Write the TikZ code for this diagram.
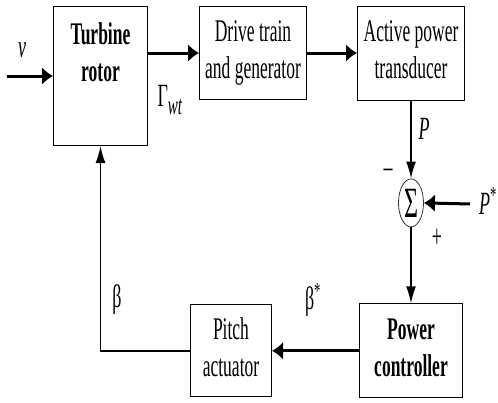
\documentclass[tikz,border=0pt]{standalone}
\usepackage{fontspec}
\setmainfont{Liberation Serif}
\usepackage{graphicx}
\usetikzlibrary{positioning, arrows.meta, shapes.geometric}
\newcommand{\tall}[1]{\scalebox{1}[1.8]{#1}}

\begin{document}
\begin{tikzpicture}[x=1pt, y=-1pt,
blk/.style={rectangle, draw=black, line width=1pt, inner sep=0pt, font=\fontsize{17.5}{20.5}\selectfont},
lbl/.style={inner sep=0pt, font=\fontsize{18}{20}\selectfont},
harrow/.style={-{Latex[length=11pt, width=18pt]}, line width=3pt},
varrow/.style={-{Latex[length=17pt, width=10pt]}, line width=1.5pt},
]
\useasboundingbox (0,0) rectangle (498,402);

\node[blk, minimum width=94pt, minimum height=139pt, anchor=north west,
      label={[anchor=north, yshift=-9pt, font=\fontsize{17.5}{20.5}\selectfont\bfseries]north:\tall{\begin{tabular}{@{}c@{}}Turbine\\rotor\end{tabular}}}]
      (turbine) at (53,6) {};
\node[blk, minimum width=107pt, minimum height=93pt]  (drive)  [right=51pt of turbine.north east, anchor=north west]
      {\tall{\begin{tabular}{@{}c@{}}Drive train\\and generator\end{tabular}}};
\node[blk, minimum width=107pt, minimum height=94pt]  (active) [right=50pt of drive]
      {\tall{\begin{tabular}{@{}c@{}}Active power\\transducer\end{tabular}}};
\node[ellipse, draw=black!80, line width=0.8pt, inner sep=0pt, minimum width=25pt, minimum height=48pt]
      (sum) [below=78pt of active] {\tall{\fontsize{24}{24}\selectfont Σ}};
\node[blk, minimum width=103pt, minimum height=94pt]  (power)  [below=76pt of sum]
      {\tall{\bfseries\begin{tabular}{@{}c@{}}Power\\controller\end{tabular}}};
\node[blk, minimum width=81pt, minimum height=92pt]   (pitch)  [left=87pt of power]
      {\tall{\begin{tabular}{@{}c@{}}Pitch\\actuator\end{tabular}}};

\coordinate (vin)  at (7,76);
\coordinate (pref) at (470,204);

% signal labels
\node[lbl] (vlab)    at (22,50)   {\tall{\textit{v}}};
\node[lbl] (gamlab)  at (170,100) {\tall{Γ\raisebox{-4pt}{\fontsize{15}{15}\selectfont\textit{wt}}}};
\node[lbl] (plab)    at (424,129) {\tall{\textit{P}}};
\node[lbl] (preflab) at (488,201) {\tall{\textit{P}\textsuperscript{*}}};
\node[lbl] (minus)   at (388,173) {\tall{–}};
\node[lbl] (plus)    at (437,238) {\tall{+}};
\node[lbl] (bstar)   at (313,300) {\tall{β\textsuperscript{*}}};
\node[lbl] (blab)    at (117,300) {\tall{β}};

\draw[harrow] (vin) -- (turbine.west |- vin);
\draw[harrow] (turbine.east |- drive.west) -- (drive.west);
\draw[harrow] (drive.east) -- (drive.east -| active.west);
\draw[varrow] (active.south) -- (sum.north);
\draw[harrow] (pref) -- (sum.east);
\draw[varrow] (sum.south) -- (power.north -| sum.south);
\draw[harrow] (power.west) -- (power.west -| pitch.east);

% pitch angle fed back to the rotor
\draw[varrow] (pitch.west) -| (turbine.south);

\end{tikzpicture}
\end{document}
